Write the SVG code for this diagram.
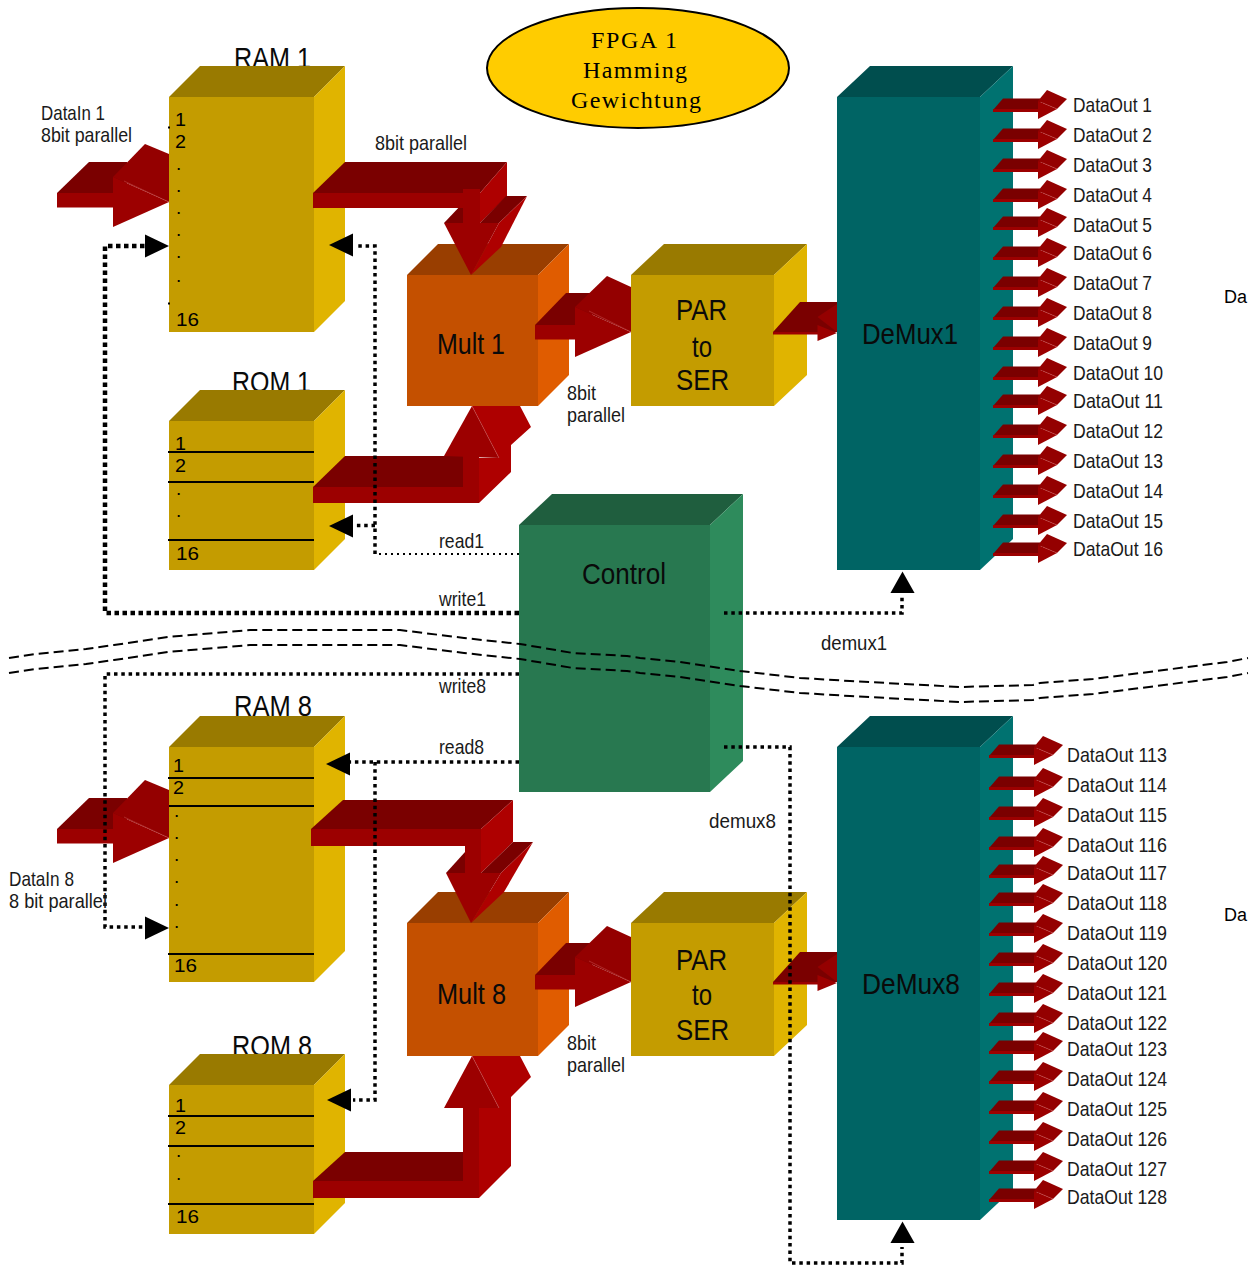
<svg xmlns="http://www.w3.org/2000/svg" width="1260" height="1265" viewBox="0 0 1260 1265">
<style>
text{font-family:"Liberation Sans Narrow","Liberation Sans",Arial,sans-serif;fill:#1a1a1a}
.s{font-size:21px}.m{font-size:30px;fill:#0a0a0a}.n{font-size:19px;fill:#000;font-family:"Liberation Sans",Arial,sans-serif}
.w{font-family:"Liberation Sans",Arial,sans-serif;font-size:18px;fill:#000}
.serif{font-family:"Liberation Serif","Times New Roman",serif;font-size:24px;text-anchor:middle;fill:#000}
.gf{fill:#C49C00}.gt{fill:#997A00}.gs{fill:#E0B400}
.of{fill:#C45000}.ot{fill:#993E00}.os{fill:#E05C00}
.tf{fill:#006464}.tt{fill:#004E4E}.ts{fill:#007270}
.cf{fill:#287850}.ct{fill:#1F5E3E}.cs{fill:#2E8B5C}
.rf{fill:#9C0000}.rt{fill:#7A0000}.rs{fill:#AE0000}.ru{fill:#940000}
.hl{stroke:#C85050;stroke-width:.5;fill:none}
.tick{stroke:#000;stroke-width:2;fill:none}
.wave{fill:none;stroke:#000;stroke-width:2;stroke-dasharray:10 5}
.d4{fill:none;stroke:#000;stroke-width:4.5;stroke-dasharray:4.5 3.5}
.d3{fill:none;stroke:#000;stroke-width:3.5;stroke-dasharray:3.5 3.8}
.d2{fill:none;stroke:#000;stroke-width:2;stroke-dasharray:2 4}
</style>
<defs>
<g id="dout">
<polygon class="rt" points="993,110 1003,98.500 1040,98.500 1040,110"/>
<rect class="rf" x="993" y="109" width="46" height="3"/>
<polygon class="ru" points="1038,101 1047,90 1067,99 1057,109"/>
<polygon class="rf" points="1038,101 1057,109 1038,119"/>
<line class="hl" x1="1043" y1="103" x2="1057" y2="109"/>
</g>
<g id="bigin">
<polygon class="rt" points="57,193 89,162 127,162 127,193"/>
<rect class="rf" x="57" y="193" width="60" height="14.5"/>
<polygon class="ru" points="113,177 145,144 169,154 169,202"/>
<polygon class="rf" points="113,177 169,202 113,227"/>
<line class="hl" x1="124" y1="181" x2="169" y2="202"/>
</g>
<g id="multout">
<polygon class="rt" points="535,325 566,293 592,293 592,325"/>
<rect class="rf" x="535" y="325" width="44" height="14.5"/>
<polygon class="ru" points="575,307 607,276 631,287 631,332"/>
<polygon class="rf" points="575,307 631,332 575,357"/>
<line class="hl" x1="589" y1="311" x2="631" y2="332"/>
</g>
<g id="parout">
<polygon class="rt" points="773,332 800,302 837,302 837,332"/>
<rect class="rf" x="773" y="332" width="46" height="2.500"/>
<polygon class="ru" points="817.5,317 837,304 837,332"/>
<polygon class="rf" points="817.5,325 837,333 817.5,341"/>
</g>
<polygon id="tri" points="0,-11.5 0,11.5 24,0"/>
</defs>

<g id="title">
<ellipse cx="638" cy="68" rx="151" ry="60" fill="#FFCC00" stroke="#000" stroke-width="2"/>
<text class="serif" x="634" y="48" textLength="86" lengthAdjust="spacing">FPGA 1</text>
<text class="serif" x="635" y="78" textLength="104" lengthAdjust="spacing">Hamming</text>
<text class="serif" x="636" y="108" textLength="130" lengthAdjust="spacing">Gewichtung</text>
</g>

<g id="ram1">
<text class="m" x="234" y="68" textLength="77" lengthAdjust="spacingAndGlyphs">RAM 1</text>
<polygon class="gt" points="169,97 200,66 345,66 314,97"/>
<polygon class="gs" points="314,97 345,66 345,301 314,332"/>
<rect class="gf" x="169" y="97" width="145" height="235"/>
<path class="tick" d="M168 127.500H170M168 303.500H170"/>
<text class="n" x="175" y="126" textLength="11" lengthAdjust="spacingAndGlyphs">1</text>
<text class="n" x="175" y="148" textLength="11" lengthAdjust="spacingAndGlyphs">2</text>
<text class="n" x="176" y="170">.</text><text class="n" x="176" y="192">.</text><text class="n" x="176" y="214">.</text><text class="n" x="176" y="236">.</text><text class="n" x="176" y="258">.</text><text class="n" x="176" y="282">.</text>
<text class="n" x="176" y="326" textLength="23" lengthAdjust="spacingAndGlyphs">16</text>
</g>
<g id="rom1">
<text class="m" x="232" y="392" textLength="79" lengthAdjust="spacingAndGlyphs">ROM 1</text>
<polygon class="gt" points="169,421 200,390 345,390 314,421"/>
<polygon class="gs" points="314,421 345,390 345,539 314,570"/>
<rect class="gf" x="169" y="421" width="145" height="149"/>
<path class="tick" d="M168 452H314M168 482H314M168 540H314"/>
<text class="n" x="175" y="450" textLength="11" lengthAdjust="spacingAndGlyphs">1</text>
<text class="n" x="175" y="472" textLength="11" lengthAdjust="spacingAndGlyphs">2</text>
<text class="n" x="176" y="495">.</text><text class="n" x="176" y="517">.</text>
<text class="n" x="176" y="560" textLength="23" lengthAdjust="spacingAndGlyphs">16</text>
</g>
<g id="mult1">
<polygon class="ot" points="407,275 438,244 569,244 538,275"/>
<polygon class="os" points="538,275 569,244 569,375 538,406"/>
<rect class="of" x="407" y="275" width="131" height="131"/>
<text class="m" x="437" y="354" textLength="68" lengthAdjust="spacingAndGlyphs">Mult 1</text>
</g>
<g id="par1">
<polygon class="gt" points="631,275 664,244 807,244 774,275"/>
<polygon class="gs" points="774,275 807,244 807,375 774,406"/>
<rect class="gf" x="631" y="275" width="143" height="131"/>
<text class="m" x="676" y="320" textLength="51" lengthAdjust="spacingAndGlyphs">PAR</text>
<text class="m" x="692" y="357" textLength="20" lengthAdjust="spacingAndGlyphs">to</text>
<text class="m" x="676" y="390" textLength="53" lengthAdjust="spacingAndGlyphs">SER</text>
</g>
<g id="demux1">
<polygon class="tt" points="837,97 870,66 1013,66 980,97"/>
<polygon class="ts" points="980,97 1013,66 1013,539 980,570"/>
<rect class="tf" x="837" y="97" width="143" height="473"/>
<text class="m" x="862" y="344" textLength="96" lengthAdjust="spacingAndGlyphs">DeMux1</text>
</g>
<g id="control">
<polygon class="ct" points="519,525 552,494 743,494 710,525"/>
<polygon class="cs" points="710,525 743,494 743,761 710,792"/>
<rect class="cf" x="519" y="525" width="191" height="267"/>
<text class="m" x="582" y="584" textLength="84" lengthAdjust="spacingAndGlyphs">Control</text>
</g>
<g id="ram8">
<text class="m" x="234" y="716" textLength="78" lengthAdjust="spacingAndGlyphs">RAM 8</text>
<polygon class="gt" points="169,747 200,716 345,716 314,747"/>
<polygon class="gs" points="314,747 345,716 345,951 314,982"/>
<rect class="gf" x="169" y="747" width="145" height="235"/>
<path class="tick" d="M168 778H314M168 806H314M168 954H314"/>
<text class="n" x="173" y="772" textLength="11" lengthAdjust="spacingAndGlyphs">1</text>
<text class="n" x="173" y="794" textLength="11" lengthAdjust="spacingAndGlyphs">2</text>
<text class="n" x="174" y="817">.</text><text class="n" x="174" y="839">.</text><text class="n" x="174" y="861">.</text><text class="n" x="174" y="883">.</text><text class="n" x="174" y="906">.</text><text class="n" x="174" y="928">.</text>
<text class="n" x="174" y="972" textLength="23" lengthAdjust="spacingAndGlyphs">16</text>
</g>
<g id="rom8">
<text class="m" x="232" y="1056" textLength="80" lengthAdjust="spacingAndGlyphs">ROM 8</text>
<polygon class="gt" points="169,1085 200,1054 345,1054 314,1085"/>
<polygon class="gs" points="314,1085 345,1054 345,1203 314,1234"/>
<rect class="gf" x="169" y="1085" width="145" height="149"/>
<path class="tick" d="M168 1116H314M168 1146H314M168 1204H314"/>
<text class="n" x="175" y="1112" textLength="11" lengthAdjust="spacingAndGlyphs">1</text>
<text class="n" x="175" y="1134" textLength="11" lengthAdjust="spacingAndGlyphs">2</text>
<text class="n" x="176" y="1157">.</text><text class="n" x="176" y="1180">.</text>
<text class="n" x="176" y="1223" textLength="23" lengthAdjust="spacingAndGlyphs">16</text>
</g>
<g id="mult8">
<polygon class="ot" points="407,923 438,892 569,892 538,923"/>
<polygon class="os" points="538,923 569,892 569,1025 538,1056"/>
<rect class="of" x="407" y="923" width="131" height="133"/>
<text class="m" x="437" y="1004" textLength="69" lengthAdjust="spacingAndGlyphs">Mult 8</text>
</g>
<g id="par8">
<polygon class="gt" points="631,923 664,892 807,892 774,923"/>
<polygon class="gs" points="774,923 807,892 807,1025 774,1056"/>
<rect class="gf" x="631" y="923" width="143" height="133"/>
<text class="m" x="676" y="970" textLength="51" lengthAdjust="spacingAndGlyphs">PAR</text>
<text class="m" x="692" y="1005" textLength="20" lengthAdjust="spacingAndGlyphs">to</text>
<text class="m" x="676" y="1040" textLength="53" lengthAdjust="spacingAndGlyphs">SER</text>
</g>
<g id="demux8">
<polygon class="tt" points="837,747 870,716 1013,716 980,747"/>
<polygon class="ts" points="980,747 1013,716 1013,1189 980,1220"/>
<rect class="tf" x="837" y="747" width="143" height="473"/>
<text class="m" x="862" y="994" textLength="98" lengthAdjust="spacingAndGlyphs">DeMux8</text>
</g>

<g id="connectors">
<use href="#bigin"/>
<use href="#bigin" y="636"/>
<polygon class="rt" points="313,193 345,162 507,162 480,193"/>
<polygon class="rs" points="480,193 507,162 507,196 480,223"/>
<polygon class="rt" points="444,223 463,203 463,223"/>
<polygon class="rt" points="480,223 506,196 527,196 499,223"/>
<polygon class="rs" points="499,223 527,196 501,247 471,275"/>
<polygon class="rf" points="444,223 499,223 471,275"/>
<polygon class="rf" points="313,193 480,193 480,223 463,223 463,208 313,208"/>
<rect class="rf" x="463" y="189" width="17" height="36"/>
<polygon class="rt" points="313,487 345,456 463,456 463,487"/>
<polygon class="rs" points="479,503 511,472 511,445 531,427 520,406 472,406 499,458 479,458"/>
<polygon class="rf" points="472,406 444,456 499,458"/>
<polygon class="rf" points="313,487 463,487 463,456 479,456 479,503 313,503"/>
<line class="hl" x1="472" y1="406" x2="499" y2="458"/>
<polygon class="rt" points="311,829 343,800 513,800 481,829"/>
<polygon class="rs" points="481,829 513,800 513,842 481,873"/>
<polygon class="rt" points="446,873 465,852 465,873"/>
<polygon class="rt" points="481,873 513,842 533,842 501,873"/>
<polygon class="rs" points="501,873 533,842 504,892 471,923"/>
<polygon class="rf" points="446,873 501,873 471,923"/>
<polygon class="rf" points="311,829 481,829 481,875 465,875 465,846 311,846"/>
<polygon class="rt" points="313,1181 345,1152 463,1152 463,1181"/>
<polygon class="rs" points="479,1198 511,1166 511,1097 531,1077 520,1056 472,1056 499,1108 479,1108"/>
<polygon class="rf" points="472,1056 444,1108 499,1108"/>
<polygon class="rf" points="313,1181 463,1181 463,1106 479,1106 479,1198 313,1198"/>
<line class="hl" x1="472" y1="1056" x2="499" y2="1108"/>
<use href="#multout"/>
<use href="#multout" y="650"/>
<use href="#parout"/>
<use href="#parout" y="650"/>
<g id="out1">
<use href="#dout"/><use href="#dout" y="30"/><use href="#dout" y="60"/><use href="#dout" y="90"/>
<use href="#dout" y="118"/><use href="#dout" y="148"/><use href="#dout" y="178"/><use href="#dout" y="208"/>
<use href="#dout" y="238"/><use href="#dout" y="268"/><use href="#dout" y="296"/><use href="#dout" y="326"/>
<use href="#dout" y="356"/><use href="#dout" y="386"/><use href="#dout" y="416"/><use href="#dout" y="444"/>
</g>
<g id="out8" transform="translate(-4 0)">
<use href="#dout" y="646"/><use href="#dout" y="678"/><use href="#dout" y="708"/><use href="#dout" y="738"/>
<use href="#dout" y="766"/><use href="#dout" y="794"/><use href="#dout" y="824"/><use href="#dout" y="854"/>
<use href="#dout" y="884"/><use href="#dout" y="914"/><use href="#dout" y="942"/><use href="#dout" y="972"/>
<use href="#dout" y="1002"/><use href="#dout" y="1032"/><use href="#dout" y="1062"/><use href="#dout" y="1090"/>
</g>
<path class="d4" d="M519 613H105V246H145"/>
<path class="d2" d="M519 554H375"/>
<path class="d3" d="M375 554V246H355M375 525.500H355"/>
<path class="d3" d="M724 613H902V597"/>
<path class="d3" d="M519 674H105V927H145"/>
<path class="d3" d="M519 762H350M375 762V1100H353"/>
<path class="d3" d="M724 747H790V1263H902V1247"/>
<use href="#tri" x="145" y="246"/>
<use href="#tri" transform="translate(353 245) scale(-1 1)"/>
<use href="#tri" transform="translate(353 526) scale(-1 1)"/>
<use href="#tri" x="145" y="928"/>
<use href="#tri" transform="translate(350 764) scale(-1 1)"/>
<use href="#tri" transform="translate(351 1100) scale(-1 1)"/>
<use href="#tri" transform="translate(902.500 593) rotate(-90) scale(.9 1.050)"/>
<use href="#tri" transform="translate(902.500 1243) rotate(-90) scale(.9 1.050)"/>
<path id="break1" class="wave" d="M9 658L36 654L86 649L114 645L168 637L214 633L250 630L400 630L464 638L520 644L573 653L627 656L640 658L680 662L740 671L800 678L850 681L960 687L1033 685L1040 683L1093 679L1227 662L1248 658"/>
<path id="break2" class="wave" d="M9 673L36 669L86 664L114 660L168 652L214 648L250 645L400 645L464 653L520 659L573 668L627 671L640 673L680 677L740 686L800 693L850 696L960 702L1033 700L1040 698L1093 694L1227 677L1248 673"/>
</g>

<g id="labels">
<text class="s" x="41" y="120" textLength="64" lengthAdjust="spacingAndGlyphs">DataIn 1</text>
<text class="s" x="41" y="142" textLength="91" lengthAdjust="spacingAndGlyphs">8bit parallel</text>
<text class="s" x="375" y="150" textLength="92" lengthAdjust="spacingAndGlyphs">8bit parallel</text>
<text class="s" x="567" y="400" textLength="29" lengthAdjust="spacingAndGlyphs">8bit</text>
<text class="s" x="567" y="422" textLength="58" lengthAdjust="spacingAndGlyphs">parallel</text>
<text class="s" x="567" y="1050" textLength="29" lengthAdjust="spacingAndGlyphs">8bit</text>
<text class="s" x="567" y="1072" textLength="58" lengthAdjust="spacingAndGlyphs">parallel</text>
<text class="s" x="439" y="548" textLength="45" lengthAdjust="spacingAndGlyphs">read1</text>
<text class="s" x="439" y="606" textLength="47" lengthAdjust="spacingAndGlyphs">write1</text>
<text class="s" x="439" y="693" textLength="47" lengthAdjust="spacingAndGlyphs">write8</text>
<text class="s" x="439" y="754" textLength="45" lengthAdjust="spacingAndGlyphs">read8</text>
<text class="s" x="821" y="650" textLength="66" lengthAdjust="spacingAndGlyphs">demux1</text>
<text class="s" x="709" y="828" textLength="67" lengthAdjust="spacingAndGlyphs">demux8</text>
<text class="s" x="9" y="886" textLength="65" lengthAdjust="spacingAndGlyphs">DataIn 8</text>
<text class="s" x="9" y="908" textLength="98" lengthAdjust="spacingAndGlyphs">8 bit parallel</text>
<text class="w" x="1224" y="303">Da</text>
<text class="w" x="1224" y="921">Da</text>
<g id="outlabels1">
<text class="s" x="1073" y="112" textLength="79" lengthAdjust="spacingAndGlyphs">DataOut 1</text>
<text class="s" x="1073" y="142" textLength="79" lengthAdjust="spacingAndGlyphs">DataOut 2</text>
<text class="s" x="1073" y="172" textLength="79" lengthAdjust="spacingAndGlyphs">DataOut 3</text>
<text class="s" x="1073" y="202" textLength="79" lengthAdjust="spacingAndGlyphs">DataOut 4</text>
<text class="s" x="1073" y="232" textLength="79" lengthAdjust="spacingAndGlyphs">DataOut 5</text>
<text class="s" x="1073" y="260" textLength="79" lengthAdjust="spacingAndGlyphs">DataOut 6</text>
<text class="s" x="1073" y="290" textLength="79" lengthAdjust="spacingAndGlyphs">DataOut 7</text>
<text class="s" x="1073" y="320" textLength="79" lengthAdjust="spacingAndGlyphs">DataOut 8</text>
<text class="s" x="1073" y="350" textLength="79" lengthAdjust="spacingAndGlyphs">DataOut 9</text>
<text class="s" x="1073" y="380" textLength="90" lengthAdjust="spacingAndGlyphs">DataOut 10</text>
<text class="s" x="1073" y="408" textLength="90" lengthAdjust="spacingAndGlyphs">DataOut 11</text>
<text class="s" x="1073" y="438" textLength="90" lengthAdjust="spacingAndGlyphs">DataOut 12</text>
<text class="s" x="1073" y="468" textLength="90" lengthAdjust="spacingAndGlyphs">DataOut 13</text>
<text class="s" x="1073" y="498" textLength="90" lengthAdjust="spacingAndGlyphs">DataOut 14</text>
<text class="s" x="1073" y="528" textLength="90" lengthAdjust="spacingAndGlyphs">DataOut 15</text>
<text class="s" x="1073" y="556" textLength="90" lengthAdjust="spacingAndGlyphs">DataOut 16</text>
</g>
<g id="outlabels8">
<text class="s" x="1067" y="762" textLength="100" lengthAdjust="spacingAndGlyphs">DataOut 113</text>
<text class="s" x="1067" y="792" textLength="100" lengthAdjust="spacingAndGlyphs">DataOut 114</text>
<text class="s" x="1067" y="822" textLength="100" lengthAdjust="spacingAndGlyphs">DataOut 115</text>
<text class="s" x="1067" y="852" textLength="100" lengthAdjust="spacingAndGlyphs">DataOut 116</text>
<text class="s" x="1067" y="880" textLength="100" lengthAdjust="spacingAndGlyphs">DataOut 117</text>
<text class="s" x="1067" y="910" textLength="100" lengthAdjust="spacingAndGlyphs">DataOut 118</text>
<text class="s" x="1067" y="940" textLength="100" lengthAdjust="spacingAndGlyphs">DataOut 119</text>
<text class="s" x="1067" y="970" textLength="100" lengthAdjust="spacingAndGlyphs">DataOut 120</text>
<text class="s" x="1067" y="1000" textLength="100" lengthAdjust="spacingAndGlyphs">DataOut 121</text>
<text class="s" x="1067" y="1030" textLength="100" lengthAdjust="spacingAndGlyphs">DataOut 122</text>
<text class="s" x="1067" y="1056" textLength="100" lengthAdjust="spacingAndGlyphs">DataOut 123</text>
<text class="s" x="1067" y="1086" textLength="100" lengthAdjust="spacingAndGlyphs">DataOut 124</text>
<text class="s" x="1067" y="1116" textLength="100" lengthAdjust="spacingAndGlyphs">DataOut 125</text>
<text class="s" x="1067" y="1146" textLength="100" lengthAdjust="spacingAndGlyphs">DataOut 126</text>
<text class="s" x="1067" y="1176" textLength="100" lengthAdjust="spacingAndGlyphs">DataOut 127</text>
<text class="s" x="1067" y="1204" textLength="100" lengthAdjust="spacingAndGlyphs">DataOut 128</text>
</g>
</g>
</svg>
